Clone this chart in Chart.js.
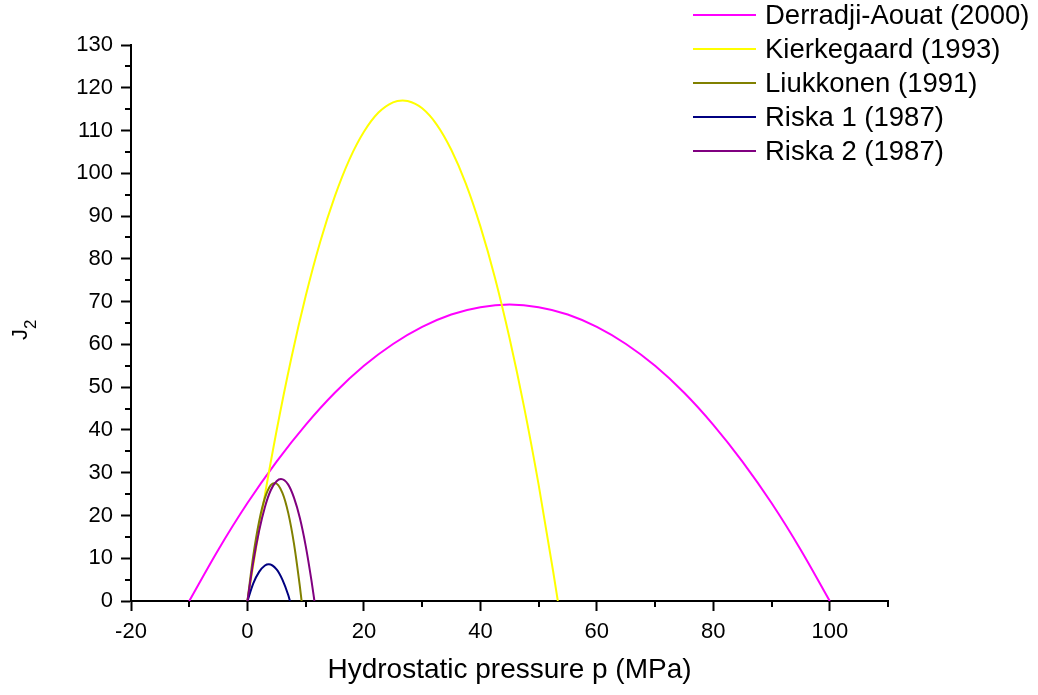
<!DOCTYPE html>
<html>
<head>
<meta charset="utf-8">
<script src="https://cdn.jsdelivr.net/npm/chart.js@4.4.0/dist/chart.umd.min.js"></script>
<style>
  html, body { margin: 0; padding: 0; background: #fff; }
  #wrap { width: 1038px; height: 695px; position: relative; }
</style>
</head>
<body>
<div id="wrap"><canvas id="j2Chart"></canvas></div>
<script>
// Curvas J2 en función de la presión hidrostática
const derradjiP  = [-10, -5, 0, 5, 10, 15, 20, 25, 30, 35, 40, 45, 50, 55, 60, 65, 70, 75, 80, 85, 90, 95, 100];
const derradjiJ2 = [0, 12.0, 22.9, 32.6, 41.2, 48.7, 55.0, 60.1, 64.1, 67.0, 68.7, 69.3, 68.7, 67.0, 64.1, 60.1, 55.0, 48.7, 41.2, 32.6, 22.9, 12.0, 0];

const kierkegaardP  = [0, 2.5, 5, 7.5, 10, 12.5, 15, 17.5, 20, 22.5, 25, 26.65, 27.5, 30, 32.5, 35, 37.5, 40, 42.5, 45, 47.5, 50, 52.5, 53.3];
const kierkegaardJ2 = [0, 20.9, 39.8, 56.6, 71.3, 84.0, 94.6, 103.2, 109.7, 114.2, 116.6, 117.0, 116.9, 115.2, 111.4, 105.5, 97.6, 87.6, 75.6, 61.5, 45.4, 27.2, 6.9, 0];

const liukkonenP  = [0, 1, 2, 3, 4, 4.7, 6, 7, 8, 9, 9.3];
const liukkonenJ2 = [0, 10.6, 18.6, 24.1, 27.1, 27.6, 25.3, 20.6, 13.3, 3.4, 0];

const riska1P  = [0, 1, 2, 3, 3.65, 5, 6, 7, 7.3];
const riska1J2 = [0, 4.1, 6.8, 8.3, 8.6, 7.4, 5.0, 1.4, 0];

const riska2P  = [0, 1, 2, 3, 4, 5, 5.75, 7, 8, 9, 10, 11, 11.5];
const riska2J2 = [0, 9.1, 16.4, 22.0, 25.9, 28.0, 28.5, 27.2, 24.1, 19.4, 12.9, 4.7, 0];

const seriesNames = ['Derradji-Aouat (2000)', 'Kierkegaard (1993)', 'Liukkonen (1991)', 'Riska 1 (1987)', 'Riska 2 (1987)'];
const seriesColors = ['#ff00ff', '#ffff00', '#808000', '#000080', '#800080'];

// Marcas menores de los ejes
const xMinorTicks = [-10, 10, 30, 50, 70, 90, 110];
const yMinorTicks = [5, 15, 25, 35, 45, 55, 65, 75, 85, 95, 105, 115, 125];

const toPoints = (xs, ys) => xs.map((x, i) => ({ x, y: ys[i] }));
const allSeries = [
  toPoints(derradjiP, derradjiJ2),
  toPoints(kierkegaardP, kierkegaardJ2),
  toPoints(liukkonenP, liukkonenJ2),
  toPoints(riska1P, riska1J2),
  toPoints(riska2P, riska2J2)
];

const FONT = '"Liberation Sans", Arial, sans-serif';

// Dibuja las marcas menores usando las escalas del gráfico
const minorTicks = {
  id: 'minorTicks',
  afterDraw(chart) {
    const { ctx, scales: { x, y } } = chart;
    ctx.save();
    ctx.strokeStyle = '#000';
    ctx.lineWidth = 2;
    xMinorTicks.forEach(v => {
      const px = Math.round(x.getPixelForValue(v));
      ctx.beginPath();
      ctx.moveTo(px, x.top);
      ctx.lineTo(px, x.top + 6);
      ctx.stroke();
    });
    yMinorTicks.forEach(v => {
      const py = Math.round(y.getPixelForValue(v));
      ctx.beginPath();
      ctx.moveTo(y.right - 6, py);
      ctx.lineTo(y.right, py);
      ctx.stroke();
    });
    ctx.restore();
  }
};

// Título del eje Y: J con subíndice 2, girado
const yTitle = {
  id: 'yTitle',
  afterDraw(chart) {
    const { ctx, scales: { y } } = chart;
    const cy = (y.top + y.bottom) / 2 + 7;
    ctx.save();
    ctx.translate(27, cy);
    ctx.rotate(-Math.PI / 2);
    ctx.fillStyle = '#000';
    ctx.textBaseline = 'alphabetic';
    ctx.font = '22px ' + FONT;
    ctx.fillText('J', -10, 0);
    ctx.font = '17px ' + FONT;
    ctx.fillText('2', 1, 9);
    ctx.restore();
  }
};

// Leyenda en la esquina superior derecha
const cornerLegend = {
  id: 'cornerLegend',
  afterDraw(chart) {
    const { ctx } = chart;
    ctx.save();
    ctx.font = '27.5px ' + FONT;
    ctx.textBaseline = 'middle';
    ctx.fillStyle = '#000';
    chart.data.datasets.forEach((ds, i) => {
      const yy = 15 + i * 34;
      ctx.strokeStyle = ds.borderColor;
      ctx.lineWidth = 2;
      ctx.beginPath();
      ctx.moveTo(693, yy);
      ctx.lineTo(756, yy);
      ctx.stroke();
      ctx.fillText(ds.label, 765, yy + 1);
    });
    ctx.restore();
  }
};

const ctx = document.getElementById('j2Chart').getContext('2d');
new Chart(ctx, {
  type: 'scatter',
  data: {
    datasets: allSeries.map((pts, i) => ({
      label: seriesNames[i],
      data: pts,
      showLine: true,
      borderColor: seriesColors[i],
      backgroundColor: seriesColors[i],
      borderWidth: 2,
      pointRadius: 0,
      cubicInterpolationMode: 'monotone',
      order: -i // las últimas series quedan encima
    }))
  },
  options: {
    responsive: true,
    maintainAspectRatio: false,
    animation: false,
    layout: { padding: { top: 45, right: 150, bottom: 0, left: 0 } },
    plugins: {
      legend: { display: false },
      tooltip: { enabled: false }
    },
    scales: {
      x: {
        type: 'linear',
        min: -20,
        max: 110,
        afterFit: s => { s.height = 94; },
        ticks: {
          stepSize: 20,
          includeBounds: false,
          color: '#000',
          padding: 8,
          font: { family: FONT, size: 22 },
          maxRotation: 0
        },
        grid: { drawOnChartArea: false, tickLength: 10, tickColor: '#000', tickWidth: 2 },
        border: { color: '#000', width: 2 },
        title: {
          display: true,
          text: 'Hydrostatic pressure p (MPa)',
          color: '#000',
          font: { family: FONT, size: 28 },
          padding: { top: 0, bottom: 8 }
        }
      },
      y: {
        type: 'linear',
        min: 0,
        max: 130,
        afterFit: s => { s.width = 131; },
        ticks: {
          stepSize: 10,
          color: '#000',
          padding: 8,
          font: { family: FONT, size: 22 }
        },
        grid: { drawOnChartArea: false, tickLength: 10, tickColor: '#000', tickWidth: 2 },
        border: { color: '#000', width: 2 },
        title: { display: false }
      }
    }
  },
  plugins: [minorTicks, yTitle, cornerLegend]
});
</script>
</body>
</html>
